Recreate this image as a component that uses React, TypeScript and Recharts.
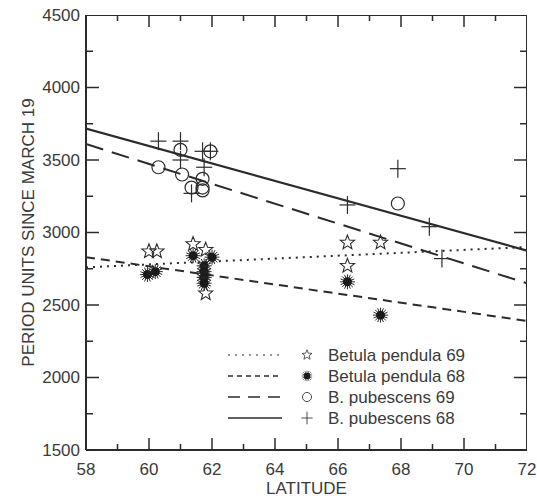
import { ScatterChart, Scatter, XAxis, YAxis, Legend } from 'recharts';

// latitude vs period units (reads off the figure)
const latTicks = [58, 59, 60, 61, 62, 63, 64, 65, 66, 67, 68, 69, 70, 71, 72];
const valTicks = [1500, 1750, 2000, 2250, 2500, 2750, 3000, 3250, 3500, 3750, 4000, 4250, 4500];

const pendula69 = [
  { lat: 60.0, val: 2870 },
  { lat: 60.25, val: 2870 },
  { lat: 61.4, val: 2920 },
  { lat: 61.8, val: 2880 },
  { lat: 61.8, val: 2580 },
  { lat: 66.3, val: 2930 },
  { lat: 66.3, val: 2770 },
  { lat: 67.35, val: 2930 },
];

const pendula68 = [
  { lat: 59.95, val: 2710 },
  { lat: 60.2, val: 2730 },
  { lat: 61.4, val: 2840 },
  { lat: 62.0, val: 2830 },
  { lat: 61.75, val: 2770 },
  { lat: 61.75, val: 2730 },
  { lat: 61.75, val: 2690 },
  { lat: 61.75, val: 2650 },
  { lat: 66.3, val: 2660 },
  { lat: 67.35, val: 2430 },
];

const pubescens69 = [
  { lat: 60.3, val: 3450 },
  { lat: 61.0, val: 3570 },
  { lat: 61.05, val: 3400 },
  { lat: 61.35, val: 3310 },
  { lat: 61.7, val: 3370 },
  { lat: 61.7, val: 3310 },
  { lat: 61.7, val: 3290 },
  { lat: 61.95, val: 3560 },
  { lat: 67.9, val: 3200 },
];

const pubescens68 = [
  { lat: 60.3, val: 3630 },
  { lat: 61.0, val: 3630 },
  { lat: 61.0, val: 3500 },
  { lat: 61.35, val: 3270 },
  { lat: 61.7, val: 3560 },
  { lat: 61.75, val: 3450 },
  { lat: 61.95, val: 3560 },
  { lat: 66.3, val: 3190 },
  { lat: 67.9, val: 3440 },
  { lat: 68.9, val: 3040 },
  { lat: 69.3, val: 2820 },
];

// fitted regression lines, ends at 58 and 72
const fitPendula69 = [{ lat: 58, val: 2760 }, { lat: 72, val: 2900 }];
const fitPendula68 = [{ lat: 58, val: 2830 }, { lat: 72, val: 2390 }];
const fitPubescens69 = [{ lat: 58, val: 3610 }, { lat: 72, val: 2650 }];
const fitPubescens68 = [{ lat: 58, val: 3716 }, { lat: 72, val: 2875 }];

const X0 = 58, X1 = 72, Y0 = 1500, Y1 = 4500;

// top and right sides of the box, plus tick anchor points on each side
const frame = [{ lat: X0, val: Y1 }, { lat: X1, val: Y1 }, { lat: X1, val: Y0 }];
const bottomTicks = latTicks.map((lat) => ({ lat, val: Y0 }));
const topTicks = latTicks.map((lat) => ({ lat, val: Y1 }));
const leftTicks = valTicks.map((val) => ({ lat: X0, val }));
const rightTicks = valTicks.map((val) => ({ lat: X1, val }));

const ink = '#2b2b2b';
const textInk = '#3a3a3a';
const font = '"Liberation Sans", Arial, Helvetica, sans-serif';

const dotted = '2 5';
const shortDash = '9 6';
const longDash = '18 9';

function Star({ cx, cy }: any) {
  const pts: string[] = [];
  for (let i = 0; i < 10; i++) {
    const r = i % 2 === 0 ? 7.5 : 3.2;
    const a = -Math.PI / 2 + (i * Math.PI) / 5;
    pts.push(`${cx + r * Math.cos(a)},${cy + r * Math.sin(a)}`);
  }
  return <polygon points={pts.join(' ')} fill="none" stroke={ink} strokeWidth={1.1} />;
}

function Burst({ cx, cy }: any) {
  const spokes = [];
  for (let i = 0; i < 16; i++) {
    const a = (i * Math.PI) / 8;
    spokes.push(
      <line key={i} x1={cx} y1={cy} x2={cx + 7.5 * Math.cos(a)} y2={cy + 7.5 * Math.sin(a)} stroke={ink} strokeWidth={1} />
    );
  }
  return (
    <g>
      {spokes}
      <circle cx={cx} cy={cy} r={4.5} fill="#1a1a1a" />
    </g>
  );
}

function Ring({ cx, cy }: any) {
  return <circle cx={cx} cy={cy} r={6.5} fill="none" stroke={ink} strokeWidth={1.2} />;
}

function Cross({ cx, cy }: any) {
  return (
    <g stroke={ink} strokeWidth={1.2}>
      <line x1={cx - 8} y1={cy} x2={cx + 8} y2={cy} />
      <line x1={cx} y1={cy - 9} x2={cx} y2={cy + 9} />
    </g>
  );
}

const NoDot = () => <g />;

// inward tick marks, dx/dy give direction into the plot
const tickMark = (dx: number, dy: number, isMajor: (p: any) => boolean) => (props: any) => {
  const { cx, cy, payload } = props;
  const len = isMajor(payload) ? (dy ? 12 : 13) : dy ? 6 : 7;
  return <line x1={cx} y1={cy} x2={cx + dx * len} y2={cy + dy * len} stroke={ink} strokeWidth={1.5} />;
};
const latMajor = (p: any) => p.lat % 2 === 0;
const valMajor = (p: any) => p.val % 500 === 0;

const legendRows = [
  { name: 'Betula pendula 69', dash: dotted, width: 1, Shape: Star },
  { name: 'Betula pendula 68', dash: '5 4', width: 1.5, Shape: Burst },
  { name: 'B. pubescens 69', dash: '12 8', width: 1.5, Shape: Ring },
  { name: 'B. pubescens 68', dash: undefined, width: 1.5, Shape: Cross },
];

function LegendBox() {
  return (
    <svg width={270} height={90} style={{ display: 'block' }}>
      {legendRows.map((r, i) => {
        const y = 14 + i * 21;
        return (
          <g key={r.name}>
            <line x1={8} x2={62} y1={y} y2={y} stroke={ink} strokeWidth={r.width} strokeDasharray={r.dash} />
            <g transform={`translate(87 ${y}) scale(0.7) translate(-87 ${-y})`}>
              <r.Shape cx={87} cy={y} />
            </g>
            <text x={108} y={y} dominantBaseline="central" fontSize={17} fontFamily={font} fill={textInk}>
              {r.name}
            </text>
          </g>
        );
      })}
    </svg>
  );
}

function BottomTick({ x, y, payload }: any) {
  if (payload.value % 2 !== 0) return <g />;
  return (
    <text x={x} y={y + 19} textAnchor="middle" dominantBaseline="central" fontSize={17} fontFamily={font} fill={textInk}>
      {payload.value}
    </text>
  );
}

function LeftTick({ x, y, payload }: any) {
  if (payload.value % 500 !== 0) return <g />;
  return (
    <text x={x - 6} y={y} textAnchor="end" dominantBaseline="central" fontSize={17} fontFamily={font} fill={textInk}>
      {payload.value}
    </text>
  );
}

export default function App() {
  return (
    <div style={{ position: 'absolute', left: 0, top: 0, background: '#fff' }}>
      <ScatterChart width={537} height={500} margin={{ top: 15, right: 10, bottom: 0, left: 0 }}>
        <XAxis
          dataKey="lat"
          type="number"
          domain={[X0, X1]}
          ticks={latTicks}
          interval={0}
          allowDataOverflow
          height={50}
          tickSize={0}
          tickMargin={0}
          tickLine={false}
          axisLine={{ stroke: ink, strokeWidth: 2 }}
          tick={BottomTick}
          label={{ value: 'LATITUDE', position: 'insideBottom', offset: 6, fontSize: 17, fontFamily: font, fill: textInk }}
        />
        <YAxis
          dataKey="val"
          type="number"
          domain={[Y0, Y1]}
          ticks={valTicks}
          interval={0}
          allowDataOverflow
          width={86}
          tickSize={0}
          tickMargin={0}
          tickLine={false}
          axisLine={{ stroke: ink, strokeWidth: 2 }}
          tick={LeftTick}
          label={{
            value: 'PERIOD UNITS SINCE MARCH 19',
            angle: -90,
            position: 'center',
            dx: -15,
            fontSize: 17,
            fontFamily: font,
            fill: textInk,
          }}
        />

        <Scatter data={frame} shape={NoDot} legendType="none" isAnimationActive={false}
          line={{ stroke: ink, strokeWidth: 2 }} />
        <Scatter data={bottomTicks} shape={tickMark(0, -1, latMajor)} legendType="none" isAnimationActive={false} />
        <Scatter data={topTicks} shape={tickMark(0, 1, latMajor)} legendType="none" isAnimationActive={false} />
        <Scatter data={leftTicks} shape={tickMark(1, 0, valMajor)} legendType="none" isAnimationActive={false} />
        <Scatter data={rightTicks} shape={tickMark(-1, 0, valMajor)} legendType="none" isAnimationActive={false} />

        <Scatter data={fitPendula69} shape={NoDot} legendType="none" isAnimationActive={false}
          line={{ stroke: ink, strokeWidth: 2, strokeDasharray: dotted }} />
        <Scatter data={fitPendula68} shape={NoDot} legendType="none" isAnimationActive={false}
          line={{ stroke: ink, strokeWidth: 2, strokeDasharray: shortDash }} />
        <Scatter data={fitPubescens69} shape={NoDot} legendType="none" isAnimationActive={false}
          line={{ stroke: ink, strokeWidth: 2, strokeDasharray: longDash }} />
        <Scatter data={fitPubescens68} shape={NoDot} legendType="none" isAnimationActive={false}
          line={{ stroke: ink, strokeWidth: 2.2 }} />

        <Scatter name="Betula pendula 69" data={pendula69} shape={Star} isAnimationActive={false} />
        <Scatter name="Betula pendula 68" data={pendula68} shape={Burst} isAnimationActive={false} />
        <Scatter name="B. pubescens 69" data={pubescens69} shape={Ring} isAnimationActive={false} />
        <Scatter name="B. pubescens 68" data={pubescens68} shape={Cross} isAnimationActive={false} />

        <Legend
          layout="vertical"
          align="center"
          verticalAlign="middle"
          content={LegendBox}
          wrapperStyle={{ left: 220, top: 341, width: 270, height: 90 }}
        />
      </ScatterChart>
    </div>
  );
}
